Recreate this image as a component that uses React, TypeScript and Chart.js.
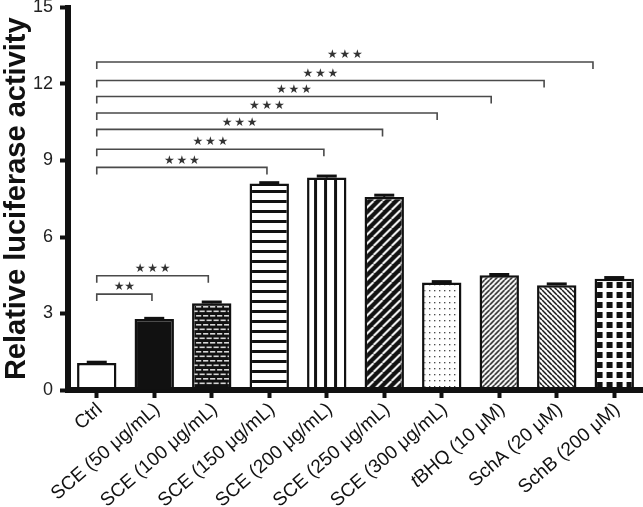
import React, { useEffect, useRef } from "react";
import { Chart, registerables } from "chart.js";

Chart.register(...registerables);

const categories = [
  "Ctrl",
  "SCE (50 μg/mL)",
  "SCE (100 μg/mL)",
  "SCE (150 μg/mL)",
  "SCE (200 μg/mL)",
  "SCE (250 μg/mL)",
  "SCE (300 μg/mL)",
  "tBHQ (10 μM)",
  "SchA (20 μM)",
  "SchB (200 μM)",
];
// leading characters drawn in italics (e.g. the "t" of tBHQ)
const italicPrefix = ["", "", "", "", "", "", "", "t", "", ""];
const values = [1.06, 2.78, 3.4, 8.1, 8.33, 7.57, 4.22, 4.5, 4.11, 4.36];
const errors = [0.03, 0.03, 0.05, 0.03, 0.06, 0.07, 0.03, 0.03, 0.05, 0.05];
const yTickValues = [0, 3, 6, 9, 12, 15];

// significance brackets (start/end as category positions, level in data units)
const bracketStarts = [0, 0, 0, 0, 0, 0, 0, 0, 0];
const bracketEnds = [0.96, 1.94, 2.96, 3.95, 4.97, 5.92, 6.86, 7.78, 8.63];
const bracketLevels = [3.76, 4.48, 8.73, 9.44, 10.22, 10.86, 11.51, 12.14, 12.86];
const bracketStars = [2, 3, 3, 3, 3, 3, 3, 3, 3];

const patternKinds = [
  "white",
  "black",
  "brick",
  "hstripe",
  "vstripe",
  "darkdiag",
  "dots",
  "diagUp",
  "diagDown",
  "grid",
];

const FONT = "Arial, 'Liberation Sans', sans-serif";
const LABEL_ROT = (41 * Math.PI) / 180;

function makeTile(w: number, h: number, draw: (c: CanvasRenderingContext2D) => void) {
  const c = document.createElement("canvas");
  c.width = w;
  c.height = h;
  const ctx = c.getContext("2d")!;
  draw(ctx);
  return c;
}

function makePattern(ctx: CanvasRenderingContext2D, kind: string): CanvasPattern | string {
  let tile: HTMLCanvasElement | null = null;
  switch (kind) {
    case "white":
      return "#ffffff";
    case "black":
      return "#111111";
    case "brick":
      tile = makeTile(14, 9, (c) => {
        c.fillStyle = "#111";
        c.fillRect(0, 0, 14, 9);
        c.fillStyle = "#d8d8d8";
        c.fillRect(0.5, 1.5, 5.2, 1.6);
        c.fillRect(7.5, 1.5, 5.2, 1.6);
        c.fillRect(4, 6, 5.2, 1.6);
        c.fillRect(11, 6, 3, 1.6);
        c.fillRect(0, 6, 2.2, 1.6);
      });
      break;
    case "hstripe":
      tile = makeTile(4, 10, (c) => {
        c.fillStyle = "#fff";
        c.fillRect(0, 0, 4, 10);
        c.fillStyle = "#111";
        c.fillRect(0, 0, 4, 3);
      });
      break;
    case "vstripe":
      tile = makeTile(10, 4, (c) => {
        c.fillStyle = "#fff";
        c.fillRect(0, 0, 10, 4);
        c.fillStyle = "#111";
        c.fillRect(7, 0, 3, 4);
      });
      break;
    case "darkdiag":
      tile = makeTile(9, 9, (c) => {
        c.fillStyle = "#111";
        c.fillRect(0, 0, 9, 9);
        c.strokeStyle = "#fff";
        c.lineWidth = 2;
        c.beginPath();
        for (let k = -1; k <= 1; k++) {
          c.moveTo(k * 9, 9);
          c.lineTo(k * 9 + 9, 0);
        }
        c.stroke();
      });
      break;
    case "dots":
      tile = makeTile(5, 6, (c) => {
        c.fillStyle = "#fff";
        c.fillRect(0, 0, 5, 6);
        c.fillStyle = "#333";
        c.fillRect(2, 2, 1.3, 1.3);
      });
      break;
    case "diagUp":
      tile = makeTile(5, 5, (c) => {
        c.fillStyle = "#fff";
        c.fillRect(0, 0, 5, 5);
        c.strokeStyle = "#111";
        c.lineWidth = 1.5;
        c.beginPath();
        for (let k = -1; k <= 1; k++) {
          c.moveTo(k * 5, 5);
          c.lineTo(k * 5 + 5, 0);
        }
        c.stroke();
      });
      break;
    case "diagDown":
      tile = makeTile(5, 5, (c) => {
        c.fillStyle = "#fff";
        c.fillRect(0, 0, 5, 5);
        c.strokeStyle = "#111";
        c.lineWidth = 1.5;
        c.beginPath();
        for (let k = -1; k <= 1; k++) {
          c.moveTo(k * 5, 0);
          c.lineTo(k * 5 + 5, 5);
        }
        c.stroke();
      });
      break;
    case "grid":
      tile = makeTile(10, 10, (c) => {
        c.fillStyle = "#fff";
        c.fillRect(0, 0, 10, 10);
        c.fillStyle = "#111";
        c.fillRect(2, 2, 6, 6);
      });
      break;
  }
  if (!tile) return "#fff";
  return ctx.createPattern(tile, "repeat")!;
}

const alignPatternsPlugin = {
  id: "alignPatterns",
  beforeDatasetsDraw(chart: any) {
    const meta = chart.getDatasetMeta(0);
    const bg = chart.data.datasets[0].backgroundColor as any[];
    meta.data.forEach((bar: any, i: number) => {
      const p = bg[i];
      if (p && typeof p !== "string" && p.setTransform) {
        const left = bar.x - bar.width / 2;
        p.setTransform(new DOMMatrix().translate(left, chart.chartArea.bottom));
      }
    });
  },
};

const errorBarPlugin = {
  id: "errorBars",
  afterDatasetsDraw(chart: any) {
    const ctx = chart.ctx;
    const y = chart.scales.y;
    const meta = chart.getDatasetMeta(0);
    ctx.save();
    ctx.strokeStyle = "#111";
    meta.data.forEach((bar: any, i: number) => {
      const v = values[i];
      const e = errors[i];
      const y0 = y.getPixelForValue(v);
      const y1 = y.getPixelForValue(v + e);
      ctx.lineWidth = 2;
      ctx.beginPath();
      ctx.moveTo(bar.x, y0);
      ctx.lineTo(bar.x, y1);
      ctx.stroke();
      ctx.lineWidth = 3;
      ctx.beginPath();
      ctx.moveTo(bar.x - 10, y1);
      ctx.lineTo(bar.x + 10, y1);
      ctx.stroke();
    });
    ctx.restore();
  },
};

const xLabelPlugin = {
  id: "xLabels",
  afterDraw(chart: any) {
    const ctx = chart.ctx;
    const xs = chart.scales.x;
    const baseY = chart.chartArea.bottom + 17;
    ctx.save();
    ctx.fillStyle = "#111";
    ctx.textBaseline = "middle";
    ctx.textAlign = "right";
    categories.forEach((lab, i) => {
      const x = xs.getPixelForValue(i) + 3;
      ctx.save();
      ctx.translate(x, baseY);
      ctx.rotate(-LABEL_ROT);
      const pre = italicPrefix[i];
      const rest = lab.slice(pre.length);
      ctx.font = `19px ${FONT}`;
      ctx.fillText(rest, 0, 0);
      if (pre) {
        const w = ctx.measureText(rest).width;
        ctx.font = `italic 19px ${FONT}`;
        ctx.fillText(pre, -w, 0);
      }
      ctx.restore();
    });
    ctx.restore();
  },
};

const bracketPlugin = {
  id: "brackets",
  afterDraw(chart: any) {
    const ctx = chart.ctx;
    const xs = chart.scales.x;
    const ys = chart.scales.y;
    ctx.save();
    bracketLevels.forEach((lvl, i) => {
      const x1 = xs.getPixelForValue(bracketStarts[i]);
      const x2 = xs.getPixelForValue(bracketEnds[i]);
      const yy = ys.getPixelForValue(lvl);
      ctx.strokeStyle = "#4a4a4a";
      ctx.lineWidth = 1.6;
      ctx.beginPath();
      ctx.moveTo(x1, yy + 7);
      ctx.lineTo(x1, yy);
      ctx.lineTo(x2, yy);
      ctx.lineTo(x2, yy + 7);
      ctx.stroke();
      const n = bracketStars[i];
      const cx = (x1 + x2) / 2;
      const gap = n === 2 ? 10.5 : 12.5;
      ctx.fillStyle = "#333";
      ctx.font = "12px 'DejaVu Sans'";
      ctx.textAlign = "center";
      ctx.textBaseline = "middle";
      for (let k = 0; k < n; k++) {
        const sx = cx + (k - (n - 1) / 2) * gap;
        ctx.fillText("★", sx, yy - 7);
      }
    });
    ctx.restore();
  },
};

export default function App() {
  const canvasRef = useRef<HTMLCanvasElement | null>(null);

  useEffect(() => {
    document.body.style.margin = "0";
    const canvas = canvasRef.current!;
    const ctx = canvas.getContext("2d")!;
    const patterns = patternKinds.map((k) => makePattern(ctx, k));
    const chart = new Chart(canvas, {
      type: "bar",
      data: {
        labels: categories,
        datasets: [
          {
            data: values,
            backgroundColor: patterns as any,
            borderColor: "#111",
            borderWidth: 2.5,
            borderSkipped: false,
            barPercentage: 0.685,
            categoryPercentage: 1,
          },
        ],
      },
      options: {
        animation: false,
        responsive: false,
        maintainAspectRatio: false,
        devicePixelRatio: 1,
        layout: { padding: { top: 7.5, left: 0, right: 0, bottom: 0 } },
        plugins: {
          legend: { display: false },
          tooltip: { enabled: false },
          title: { display: false },
        },
        scales: {
          x: {
            offset: true,
            grid: {
              display: true,
              drawOnChartArea: false,
              drawTicks: true,
              tickLength: 8,
              tickWidth: 4,
              tickColor: "#111",
              offset: false,
            },
            border: { display: true, width: 6, color: "#111" },
            ticks: { display: false, autoSkip: false },
            afterFit: (s: any) => {
              s.height = 117;
              s.paddingLeft = 0;
              s.paddingRight = 0;
            },
          },
          y: {
            min: 0,
            max: 15,
            afterBuildTicks: (s: any) => {
              s.ticks = yTickValues.map((v) => ({ value: v }));
            },
            grid: {
              display: true,
              drawOnChartArea: false,
              drawTicks: true,
              tickLength: 8,
              tickWidth: 4,
              tickColor: "#111",
            },
            border: { display: true, width: 6, color: "#111" },
            ticks: {
              padding: 7,
              color: "#222",
              font: { family: FONT, size: 18 },
            },
            title: {
              display: true,
              text: "Relative luciferase activity",
              color: "#111",
              padding: 0,
              font: { family: FONT, size: 29, weight: "bold" },
            },
            afterFit: (s: any) => {
              s.width = 68;
              s.paddingTop = 0;
              s.paddingBottom = 0;
            },
          },
        },
      },
      plugins: [alignPatternsPlugin, errorBarPlugin, bracketPlugin, xLabelPlugin],
    });
    return () => chart.destroy();
  }, []);

  return (
    <div style={{ position: "absolute", left: 0, top: 0, width: 643, height: 507, background: "#fff" }}>
      <canvas ref={canvasRef} width={643} height={507} style={{ width: 643, height: 507, display: "block" }} />
    </div>
  );
}
